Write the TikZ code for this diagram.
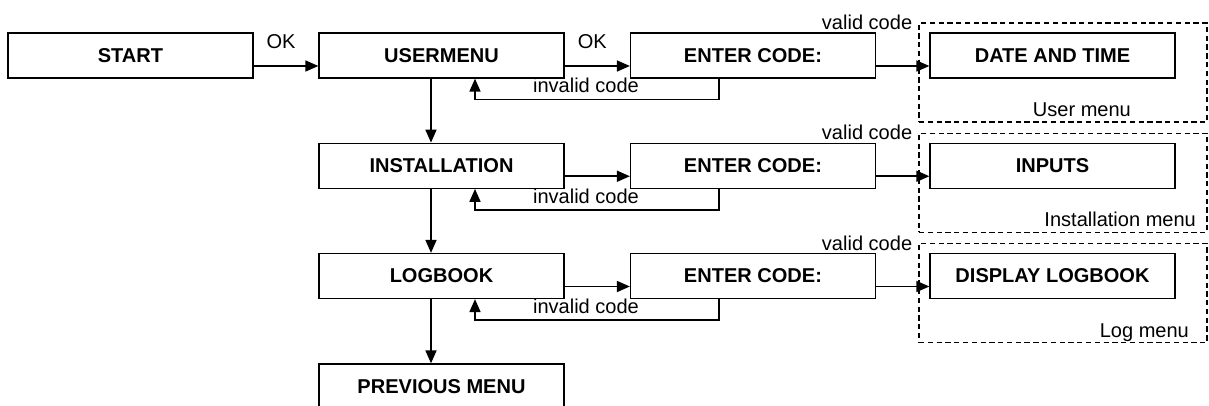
\documentclass[tikz,border=0pt]{standalone}
\usepackage{fontspec}
\setmainfont{Liberation Sans}
\usetikzlibrary{arrows.meta,calc,positioning}
\newcommand{\dfont}{\fontsize{11.4}{13.7}\selectfont}
\tikzset{
  box/.style={draw,line width=0.7pt,minimum width=4.9cm,minimum height=0.9cm,inner sep=0pt,font=\dfont\bfseries},
  grp/.style={draw,line width=0.7pt,dash pattern=on 3pt off 2pt,minimum width=5.76cm,minimum height=1.98cm,inner sep=0pt},
  edge/.style={-{Triangle[length=0.26cm,width=0.22cm]},line width=0.9pt},
  every node/.style={font=\dfont}
}
\begin{document}
\begin{tikzpicture}
\useasboundingbox (0,0) rectangle (24.18,-8.12);
% main menu column
\node[box] (start) at (2.61,-1.11) {START};
\node[box] (user) at (8.83,-1.11) {USERMENU};
\node[box] (inst) at (8.83,-3.315) {INSTALLATION};
\node[box] (log) at (8.83,-5.52) {LOGBOOK};
\node[box] (prev) at (8.83,-7.73) {PREVIOUS MENU};
% code entry
\node[box] (code1) at (15.06,-1.11) {ENTER CODE:};
\node[box] (code2) at (15.06,-3.315) {ENTER CODE:};
\node[box] (code3) at (15.06,-5.52) {ENTER CODE:};
% submenus (dashed groups)
\node[grp] (g1) at (21.26,-1.45) {};
\node[grp] (g2) at (21.26,-3.655) {};
\node[grp] (g3) at (21.26,-5.86) {};
\node[box] (date) at (21.05,-1.11) {DATE AND TIME};
\node[box] (inputs) at (21.05,-3.315) {INPUTS};
\node[box] (showlog) at (21.05,-5.52) {DISPLAY LOGBOOK};
\node[anchor=east] (v1) at (g1.north west) {valid code};
\node[anchor=east] (v2) at (g2.north west) {valid code};
\node[anchor=east] (v3) at (g3.north west) {valid code};
\node[anchor=base east] (m1) at ([shift={(-1.41,0.12)}]g1.south east) {User menu};
\node[anchor=base east] (m2) at ([shift={(-0.11,0.12)}]g2.south east) {Installation menu};
\node[anchor=base east] (m3) at ([shift={(-0.25,0.11)}]g3.south east) {Log menu};
% forward arrows
\draw[edge] ([yshift=-0.21cm]start.east) -- node[above,xshift=-0.1cm,yshift=0.21cm] (ok1) {OK} ([yshift=-0.21cm]user.west);
\draw[edge] ([yshift=-0.21cm]user.east) -- node[above,xshift=-0.1cm,yshift=0.21cm] (ok2) {OK} ([yshift=-0.21cm]code1.west);
\draw[edge] ([yshift=-0.21cm]inst.east) -- ([yshift=-0.21cm]code2.west);
\draw[edge] ([yshift=-0.21cm]log.east) -- ([yshift=-0.21cm]code3.west);
\draw[edge] ([yshift=-0.21cm]code1.east) -- ([yshift=-0.21cm]date.west);
\draw[edge] ([yshift=-0.21cm]code2.east) -- ([yshift=-0.21cm]inputs.west);
\draw[edge] ([yshift=-0.21cm]code3.east) -- ([yshift=-0.21cm]showlog.west);
% down the column
\draw[edge] ([xshift=-0.21cm]user.south) -- ([xshift=-0.21cm]inst.north);
\draw[edge] ([xshift=-0.21cm]inst.south) -- ([xshift=-0.21cm]log.north);
\draw[edge] ([xshift=-0.21cm]log.south) -- ([xshift=-0.21cm]prev.north);
% invalid code returns
\draw[edge] ([xshift=-0.68cm]code1.south) -- ++(0,-0.42) -| node[pos=0.25,above,xshift=-0.22cm] (i1) {invalid code} ([xshift=0.67cm]user.south);
\draw[edge] ([xshift=-0.68cm]code2.south) -- ++(0,-0.42) -| node[pos=0.25,above,xshift=-0.22cm] (i2) {invalid code} ([xshift=0.67cm]inst.south);
\draw[edge] ([xshift=-0.68cm]code3.south) -- ++(0,-0.42) -| node[pos=0.25,above,xshift=-0.22cm] (i3) {invalid code} ([xshift=0.67cm]log.south);
\end{tikzpicture}
\end{document}
